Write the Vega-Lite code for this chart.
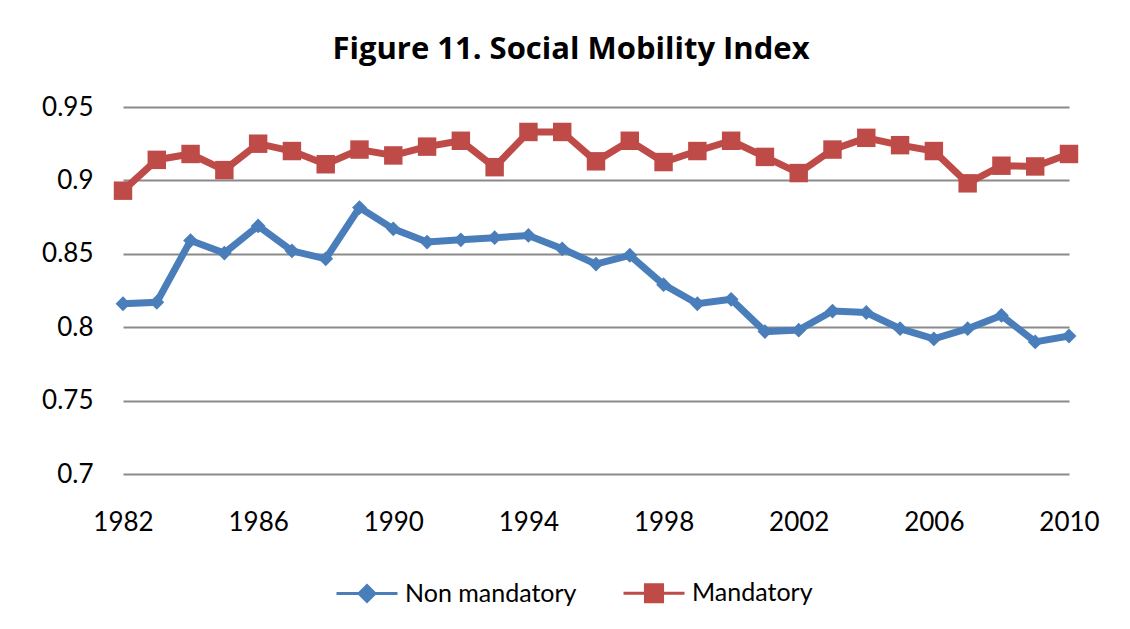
{
  "$schema": "https://vega.github.io/schema/vega-lite/v6.json",
  "autosize": "none",
  "width": 946,
  "height": 367,
  "padding": {"left": 123, "top": 107, "right": 61, "bottom": 155},
  "background": "white",
  "title": {
    "text": "Figure 11. Social Mobility Index",
    "font": "Open Sans",
    "fontSize": 31,
    "fontWeight": "bold",
    "color": "black",
    "anchor": "middle",
    "baseline": "alphabetic",
    "offset": 4,
    "dx": -25
  },
  "config": {
    "view": {"stroke": null},
    "font": "Lato"
  },
  "data": {
    "values": [
      {"year": 1982, "series": "Non mandatory", "value": 0.816},
      {"year": 1983, "series": "Non mandatory", "value": 0.817},
      {"year": 1984, "series": "Non mandatory", "value": 0.859},
      {"year": 1985, "series": "Non mandatory", "value": 0.8505},
      {"year": 1986, "series": "Non mandatory", "value": 0.869},
      {"year": 1987, "series": "Non mandatory", "value": 0.852},
      {"year": 1988, "series": "Non mandatory", "value": 0.8466},
      {"year": 1989, "series": "Non mandatory", "value": 0.8815},
      {"year": 1990, "series": "Non mandatory", "value": 0.867},
      {"year": 1991, "series": "Non mandatory", "value": 0.858},
      {"year": 1992, "series": "Non mandatory", "value": 0.8595},
      {"year": 1993, "series": "Non mandatory", "value": 0.861},
      {"year": 1994, "series": "Non mandatory", "value": 0.8625},
      {"year": 1995, "series": "Non mandatory", "value": 0.8534},
      {"year": 1996, "series": "Non mandatory", "value": 0.843},
      {"year": 1997, "series": "Non mandatory", "value": 0.849},
      {"year": 1998, "series": "Non mandatory", "value": 0.829},
      {"year": 1999, "series": "Non mandatory", "value": 0.816},
      {"year": 2000, "series": "Non mandatory", "value": 0.819},
      {"year": 2001, "series": "Non mandatory", "value": 0.797},
      {"year": 2002, "series": "Non mandatory", "value": 0.798},
      {"year": 2003, "series": "Non mandatory", "value": 0.811},
      {"year": 2004, "series": "Non mandatory", "value": 0.810},
      {"year": 2005, "series": "Non mandatory", "value": 0.799},
      {"year": 2006, "series": "Non mandatory", "value": 0.792},
      {"year": 2007, "series": "Non mandatory", "value": 0.799},
      {"year": 2008, "series": "Non mandatory", "value": 0.808},
      {"year": 2009, "series": "Non mandatory", "value": 0.790},
      {"year": 2010, "series": "Non mandatory", "value": 0.794},
      {"year": 1982, "series": "Mandatory", "value": 0.893},
      {"year": 1983, "series": "Mandatory", "value": 0.914},
      {"year": 1984, "series": "Mandatory", "value": 0.918},
      {"year": 1985, "series": "Mandatory", "value": 0.907},
      {"year": 1986, "series": "Mandatory", "value": 0.925},
      {"year": 1987, "series": "Mandatory", "value": 0.920},
      {"year": 1988, "series": "Mandatory", "value": 0.911},
      {"year": 1989, "series": "Mandatory", "value": 0.921},
      {"year": 1990, "series": "Mandatory", "value": 0.917},
      {"year": 1991, "series": "Mandatory", "value": 0.923},
      {"year": 1992, "series": "Mandatory", "value": 0.927},
      {"year": 1993, "series": "Mandatory", "value": 0.909},
      {"year": 1994, "series": "Mandatory", "value": 0.933},
      {"year": 1995, "series": "Mandatory", "value": 0.933},
      {"year": 1996, "series": "Mandatory", "value": 0.913},
      {"year": 1997, "series": "Mandatory", "value": 0.927},
      {"year": 1998, "series": "Mandatory", "value": 0.9125},
      {"year": 1999, "series": "Mandatory", "value": 0.920},
      {"year": 2000, "series": "Mandatory", "value": 0.927},
      {"year": 2001, "series": "Mandatory", "value": 0.916},
      {"year": 2002, "series": "Mandatory", "value": 0.905},
      {"year": 2003, "series": "Mandatory", "value": 0.921},
      {"year": 2004, "series": "Mandatory", "value": 0.929},
      {"year": 2005, "series": "Mandatory", "value": 0.924},
      {"year": 2006, "series": "Mandatory", "value": 0.920},
      {"year": 2007, "series": "Mandatory", "value": 0.898},
      {"year": 2008, "series": "Mandatory", "value": 0.910},
      {"year": 2009, "series": "Mandatory", "value": 0.9095},
      {"year": 2010, "series": "Mandatory", "value": 0.918}
    ]
  },
  "encoding": {
    "x": {
      "field": "year",
      "type": "quantitative",
      "scale": {"domain": [1982, 2010], "nice": false, "zero": false},
      "axis": {
        "title": null,
        "values": [1982, 1986, 1990, 1994, 1998, 2002, 2006, 2010],
        "format": "d",
        "grid": false,
        "domain": false,
        "ticks": false,
        "tickSize": 0,
        "labelPadding": 48,
        "labelBaseline": "middle",
        "labelFont": "Lato",
        "labelFontSize": 26,
        "labelColor": "black",
        "labelFlush": false,
        "labelOverlap": false
      }
    },
    "y": {
      "field": "value",
      "type": "quantitative",
      "scale": {"domain": [0.7, 0.95], "nice": false, "zero": false},
      "axis": {
        "title": null,
        "values": [0.7, 0.75, 0.8, 0.85, 0.9, 0.95],
        "format": "~g",
        "grid": true,
        "gridColor": "#8a8a8a",
        "gridWidth": 2,
        "domain": false,
        "ticks": false,
        "tickSize": 0,
        "labelPadding": 30,
        "labelFont": "Lato",
        "labelFontSize": 26,
        "labelColor": "black",
        "labelFlush": false,
        "labelOverlap": false
      }
    },
    "color": {
      "field": "series",
      "type": "nominal",
      "scale": {"domain": ["Non mandatory", "Mandatory"], "range": ["#4A7EBB", "#BE4B48"]},
      "legend": {
        "title": null,
        "orient": "none",
        "direction": "horizontal",
        "legendX": 212,
        "legendY": 454,
        "symbolSize": 3721,
        "symbolStrokeWidth": 3,
        "labelFont": "Lato",
        "labelFontSize": 25,
        "labelColor": "black",
        "labelLimit": 400,
        "labelOffset": 6,
        "columnPadding": 40,
        "encode": {
          "symbols": {
            "update": {
              "shape": {"signal": "datum.value === 'Mandatory' ? 'M-1,0H1M-0.28,-0.28H0.28V0.28H-0.28Z' : 'M-1,0H1M0,-0.26L0.26,0L0,0.26L-0.26,0Z'"},
              "fill": {"scale": "color", "field": "value"},
              "stroke": {"scale": "color", "field": "value"},
              "strokeWidth": {"value": 3},
              "opacity": {"value": 1}
            }
          }
        }
      }
    }
  },
  "layer": [
    {
      "mark": {"type": "line", "strokeWidth": 7, "strokeJoin": "miter"}
    },
    {
      "transform": [{"filter": "datum.series === 'Non mandatory'"}],
      "mark": {"type": "point", "filled": true, "opacity": 1, "shape": "diamond", "size": 220}
    },
    {
      "transform": [{"filter": "datum.series === 'Mandatory'"}],
      "mark": {"type": "point", "filled": true, "opacity": 1, "shape": "square", "size": 340}
    }
  ]
}
